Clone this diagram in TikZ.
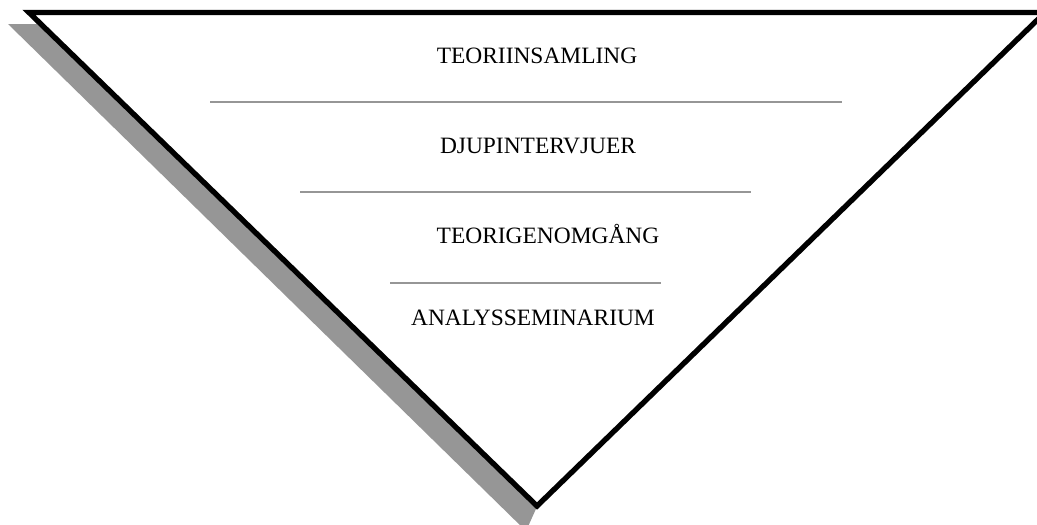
\documentclass[tikz,border=0pt]{standalone}
\usepackage{fontspec}
\setmainfont{Liberation Serif}
\definecolor{shadowgray}{RGB}{150,150,150}
\definecolor{rulegray}{RGB}{150,150,150}

\begin{document}
\begin{tikzpicture}[
  x=0.03cm,
  y=-0.03cm,
  font=\fontsize{20}{23}\selectfont,
  stage/.style={anchor=base, inner sep=0pt},
  rule/.style={draw=rulegray, line width=0.06cm},
  funnel/.style={draw=black, fill=white, line width=0.16cm, line join=miter}
]

% Ramen (1037 x 524 px)
\clip (0,0) rectangle (1037,524);

% Hörn
\coordinate (tl) at (29,12.5);
\coordinate (tr) at (1045,12.5);
\coordinate (tip) at (537,506);

% Skugga
\fill[shadowgray] (8,24) -- (540,24) -- (540,500) -- (526,531) -- cycle;

% Tratten
\draw[funnel] (tl) -- (tr) -- (tip) -- cycle;

% Steg
\node[stage] (teori)    at (537,63)  {TEORIINSAMLING};
\node[stage] (djup)     at (538,153) {DJUPINTERVJUER};
\node[stage] (genomg)   at (548,243) {TEORIGENOMGÅNG};
\node[stage] (analys)   at (533,325) {ANALYSSEMINARIUM};

% Skiljelinjer
\coordinate (sepA1) at (210,102);
\coordinate (sepA2) at (842,102);
\coordinate (sepB1) at (300,192);
\coordinate (sepB2) at (751,192);
\coordinate (sepC1) at (390,283);
\coordinate (sepC2) at (661,283);
\draw[rule] (sepA1) -- (sepA2);
\draw[rule] (sepB1) -- (sepB2);
\draw[rule] (sepC1) -- (sepC2);

\end{tikzpicture}
\end{document}
